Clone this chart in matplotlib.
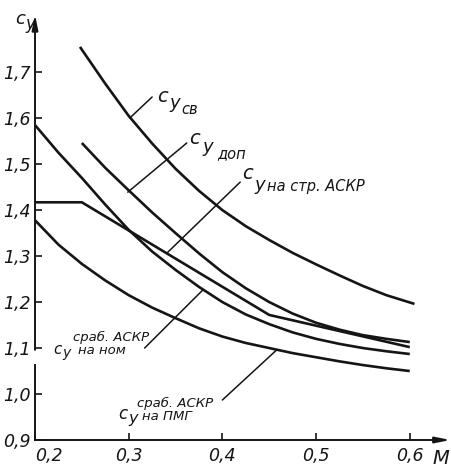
import matplotlib
matplotlib.use("Agg")
import matplotlib.pyplot as plt

# ---- data ----
M_sv = [0.248, 0.275, 0.30, 0.325, 0.35, 0.375, 0.40, 0.425, 0.45, 0.475, 0.50, 0.525, 0.55, 0.575, 0.605]
Cy_sv = [1.755, 1.675, 1.605, 1.545, 1.49, 1.442, 1.40, 1.365, 1.335, 1.307, 1.282, 1.258, 1.235, 1.215, 1.196]

M_dop = [0.25, 0.275, 0.30, 0.325, 0.35, 0.375, 0.40, 0.425, 0.45, 0.475, 0.50, 0.525, 0.55, 0.575, 0.60]
Cy_dop = [1.546, 1.492, 1.443, 1.395, 1.35, 1.306, 1.265, 1.23, 1.20, 1.175, 1.155, 1.14, 1.128, 1.12, 1.113]

M_str = [0.20, 0.25, 0.45, 0.60]
Cy_str = [1.417, 1.417, 1.172, 1.102]

M_nom = [0.20, 0.225, 0.25, 0.275, 0.30, 0.325, 0.35, 0.375, 0.40, 0.425, 0.45, 0.475, 0.50, 0.525, 0.55, 0.575, 0.60]
Cy_nom = [1.585, 1.525, 1.47, 1.412, 1.357, 1.31, 1.27, 1.233, 1.20, 1.173, 1.152, 1.134, 1.12, 1.109, 1.10, 1.093, 1.087]

M_pmg = [0.20, 0.225, 0.25, 0.275, 0.30, 0.325, 0.35, 0.375, 0.40, 0.425, 0.45, 0.475, 0.50, 0.525, 0.55, 0.575, 0.60]
Cy_pmg = [1.378, 1.325, 1.283, 1.247, 1.215, 1.188, 1.165, 1.143, 1.125, 1.111, 1.10, 1.089, 1.08, 1.071, 1.063, 1.056, 1.05]

x_ticks = [0.2, 0.3, 0.4, 0.5, 0.6]
x_ticklabels = ["0,2", "0,3", "0,4", "0,5", "0,6"]
y_ticks = [0.9, 1.0, 1.1, 1.2, 1.3, 1.4, 1.5, 1.6, 1.7]
y_ticklabels = ["0,9", "1,0", "1,1", "1,2", "1,3", "1,4", "1,5", "1,6", "1,7"]

W, H = 451, 466
FAM = ["Liberation Sans Narrow", "DejaVu Sans"]
plt.rcParams["font.family"] = FAM

fig = plt.figure(figsize=(W / 100, H / 100), dpi=100)
ax = fig.add_axes([35 / W, 26 / H, 416 / W, 440 / H])
ax.set_xlim(0.2, 0.644)
ax.set_ylim(0.9, 1.857)
for s in ax.spines.values():
    s.set_visible(False)

lw = 1.9
col = "#151515"
for m, c in [(M_sv, Cy_sv), (M_dop, Cy_dop), (M_str, Cy_str), (M_nom, Cy_nom), (M_pmg, Cy_pmg)]:
    ax.plot(m, c, color=col, lw=lw, solid_capstyle="butt", solid_joinstyle="round")

# axes drawn as arrows (y axis has a break between 1,0 and 1,1)
ax.annotate("", xy=(0.6435, 0.9), xytext=(0.2, 0.9), annotation_clip=False,
            arrowprops=dict(arrowstyle="-|>,head_length=0.9,head_width=0.18", color=col, lw=1.4, shrinkA=0, shrinkB=0))
ax.annotate("", xy=(0.2, 1.826), xytext=(0.2, 1.096), annotation_clip=False,
            arrowprops=dict(arrowstyle="-|>,head_length=0.9,head_width=0.18", color=col, lw=1.4, shrinkA=0, shrinkB=0))
ax.plot([0.2, 0.2], [0.9, 1.063], color=col, lw=1.4, clip_on=False)

ax.set_xticks(x_ticks)
ax.set_xticklabels(x_ticklabels)
ax.set_yticks(y_ticks)
ax.set_yticklabels(y_ticklabels)
ax.tick_params(direction="in", length=5, width=1.2, color=col, labelsize=12.5, labelcolor=col, pad=3)
ax.tick_params(axis="x", pad=5)
for t in ax.get_xticklabels() + ax.get_yticklabels():
    t.set_fontstyle("italic")
ax.get_xticklabels()[0].set_horizontalalignment("left")

# leader lines
leaders = [((0.301, 1.600), (0.325, 1.646)),
           ((0.299, 1.439), (0.362, 1.546)),
           ((0.341, 1.307), (0.419, 1.461)),
           ((0.317, 1.100), (0.379, 1.226)),
           ((0.400, 0.987), (0.458, 1.096))]
for a, b in leaders:
    ax.annotate("", xy=a, xytext=b, arrowprops=dict(arrowstyle="-", color=col, lw=1.1, shrinkA=0, shrinkB=0))


def t(x, y, s, size, **kw):
    fig.text(x / W, 1 - y / H, s, fontsize=size, fontstyle="italic", color=col,
             ha=kw.pop("ha", "left"), va=kw.pop("va", "center"), **kw)


# axis names
t(15, 19, "c", 13)
t(25, 24, "y", 12)
t(432, 458, "M", 14)

# C_y св
t(157, 97, "c", 14)
t(169, 103, "y", 13)
t(181, 109, "св", 10.5)
# C_y доп
t(189, 138, "c", 14)
t(202, 147, "y", 13)
t(217, 154, "доп", 10.5)
# C_y на стр. АСКР
t(242, 173, "c", 14)
t(254, 185, "y", 13)
t(267, 187, "на стр. АСКР", 10.5)
# сраб. АСКР / C_y на ном
t(73, 337, "сраб. АСКР", 9.5)
t(53, 349, "c", 11)
t(62, 353, "y", 10)
t(78, 351, "на ном", 9.5)
# сраб. АСКР / C_y на ПМГ
t(137, 403, "сраб. АСКР", 9.5)
t(118, 414, "c", 12)
t(128, 419, "y", 11.5)
t(142, 416, "на ПМГ", 9.5)

fig.savefig("out.png", dpi=100, facecolor="white")
